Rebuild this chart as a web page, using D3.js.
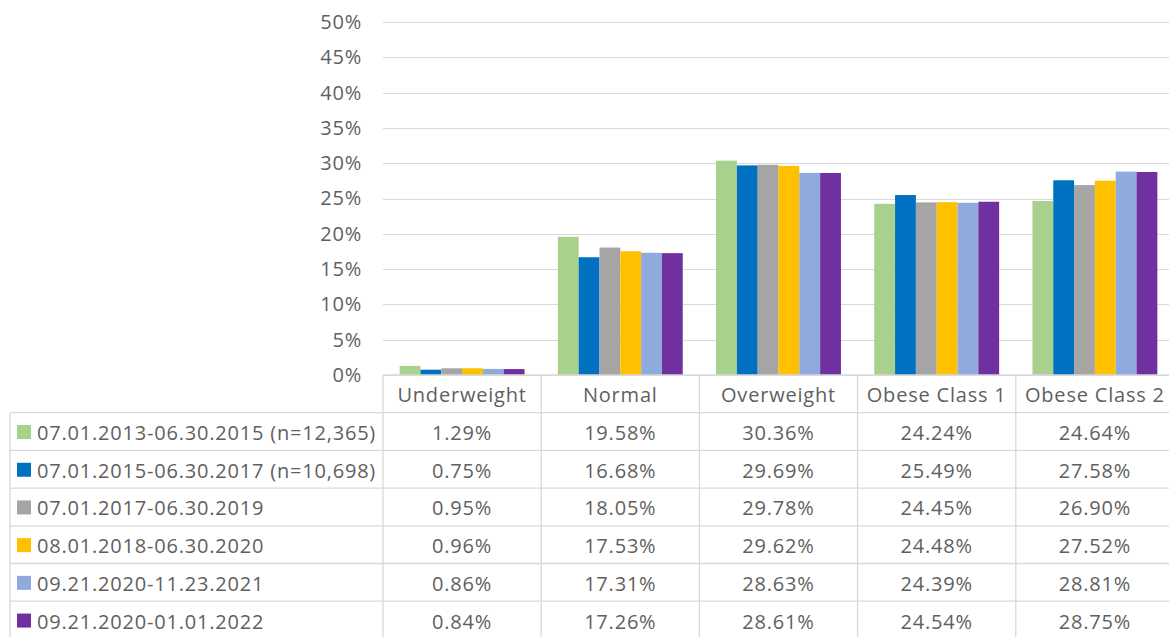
<!DOCTYPE html>
<html>
<head>
<meta charset="utf-8">
<script src="https://cdn.jsdelivr.net/npm/d3@7"></script>
<style>
  html, body { margin: 0; padding: 0; background: #fff; overflow: hidden; }
  svg { display: block; }
  text { font-family: "Open Sans", "Noto Sans", sans-serif; fill: #5f5f5f; letter-spacing: 0.8px; }
</style>
</head>
<body>
<script>
// ---- data ----
const categories = ["Underweight", "Normal", "Overweight", "Obese Class 1", "Obese Class 2"];
const seriesNames = [
  "07.01.2013-06.30.2015 (n=12,365)",
  "07.01.2015-06.30.2017 (n=10,698)",
  "07.01.2017-06.30.2019",
  "08.01.2018-06.30.2020",
  "09.21.2020-11.23.2021",
  "09.21.2020-01.01.2022"
];
const s1 = [1.29, 19.58, 30.36, 24.24, 24.64];
const s2 = [0.75, 16.68, 29.69, 25.49, 27.58];
const s3 = [0.95, 18.05, 29.78, 24.45, 26.90];
const s4 = [0.96, 17.53, 29.62, 24.48, 27.52];
const s5 = [0.86, 17.31, 28.63, 24.39, 28.81];
const s6 = [0.84, 17.26, 28.61, 24.54, 28.75];
const seriesValues = [s1, s2, s3, s4, s5, s6];
const colors = ["#A9D18E", "#0070C0", "#A5A5A5", "#FFC000", "#8FAADC", "#7030A0"];
const yTicks = [0, 5, 10, 15, 20, 25, 30, 35, 40, 45, 50];

// ---- layout ----
const W = 1169, H = 637;
const plotLeft = 383, plotRight = 1174, plotTop = 22, plotBottom = 375;
const rowH = 37.7;
const legendLeft = 10;
const gridColor = "#D9D9D9";
const fontSize = 20;

const svg = d3.select("body").append("svg").attr("width", W).attr("height", H);

const y = d3.scaleLinear().domain([0, 50]).range([plotBottom, plotTop]);
const x0 = d3.scaleBand().domain(categories).range([plotLeft, plotRight]).padding(0);
const x1 = d3.scaleBand().domain(d3.range(seriesNames.length)).range([0, x0.bandwidth()])
  .paddingInner(0).paddingOuter(0.8);

// gridlines
svg.append("g").selectAll("line").data(yTicks).join("line")
  .attr("x1", plotLeft).attr("x2", plotRight)
  .attr("y1", d => Math.round(y(d)) + 0.5).attr("y2", d => Math.round(y(d)) + 0.5)
  .attr("stroke", gridColor).attr("stroke-width", 1.2);

// y axis labels
const yAxis = d3.axisLeft(y).tickValues(yTicks).tickFormat(d => d + "%").tickSize(0).tickPadding(0);
const ya = svg.append("g").attr("transform", "translate(362,0)").call(yAxis);
ya.select(".domain").remove();
ya.selectAll("text").style("font-size", fontSize + "px").attr("fill", "#5f5f5f")
  .style("font-family", "'Open Sans', sans-serif");

// bars
const groups = svg.append("g").selectAll("g").data(categories).join("g")
  .attr("transform", d => `translate(${x0(d)},0)`);
groups.selectAll("rect").data((c, ci) => seriesValues.map((vals, si) => ({ si, v: vals[ci] })))
  .join("rect")
  .attr("x", d => x1(d.si))
  .attr("width", x1.bandwidth())
  .attr("y", d => y(d.v))
  .attr("height", d => y(0) - y(d.v))
  .attr("fill", d => colors[d.si]);

// ---- data table ----
const tbl = svg.append("g");
const headerTop = plotBottom;
const nRows = seriesNames.length;
const tableBottom = headerTop + rowH * (nRows + 1);
const lineAttr = sel => sel.attr("stroke", gridColor).attr("stroke-width", 1.3).attr("fill", "none");

tbl.append("line").attr("x1", plotLeft).attr("x2", plotRight)
  .attr("y1", headerTop).attr("y2", headerTop).call(lineAttr);
for (let r = 1; r <= nRows + 1; r++) {
  tbl.append("line").attr("x1", legendLeft).attr("x2", plotRight)
    .attr("y1", headerTop + r * rowH).attr("y2", headerTop + r * rowH).call(lineAttr);
}
tbl.append("line").attr("x1", legendLeft).attr("x2", legendLeft)
  .attr("y1", headerTop + rowH).attr("y2", tableBottom).call(lineAttr);
categories.forEach(c => {
  tbl.append("line").attr("x1", x0(c)).attr("x2", x0(c))
    .attr("y1", headerTop).attr("y2", tableBottom).call(lineAttr);
});
tbl.append("line").attr("x1", plotRight).attr("x2", plotRight)
  .attr("y1", headerTop).attr("y2", tableBottom).call(lineAttr);

tbl.selectAll("text.hdr").data(categories).join("text").attr("class", "hdr")
  .attr("x", d => x0(d) + x0.bandwidth() / 2)
  .attr("y", headerTop + rowH / 2 + 1)
  .attr("text-anchor", "middle").attr("dominant-baseline", "central")
  .style("font-size", fontSize + "px")
  .text(d => d);

seriesNames.forEach((name, si) => {
  const cy = headerTop + (si + 1) * rowH + rowH / 2 + 1;
  tbl.append("rect").attr("x", 17).attr("y", cy - 7.5).attr("width", 14).attr("height", 14)
    .attr("fill", colors[si]);
  tbl.append("text").attr("x", 37).attr("y", cy)
    .attr("dominant-baseline", "central").style("font-size", fontSize + "px").text(name);
  categories.forEach((c, ci) => {
    tbl.append("text").attr("x", x0(c) + x0.bandwidth() / 2).attr("y", cy)
      .attr("text-anchor", "middle").attr("dominant-baseline", "central")
      .style("font-size", fontSize + "px")
      .text(seriesValues[si][ci].toFixed(2) + "%");
  });
});
</script>
</body>
</html>
